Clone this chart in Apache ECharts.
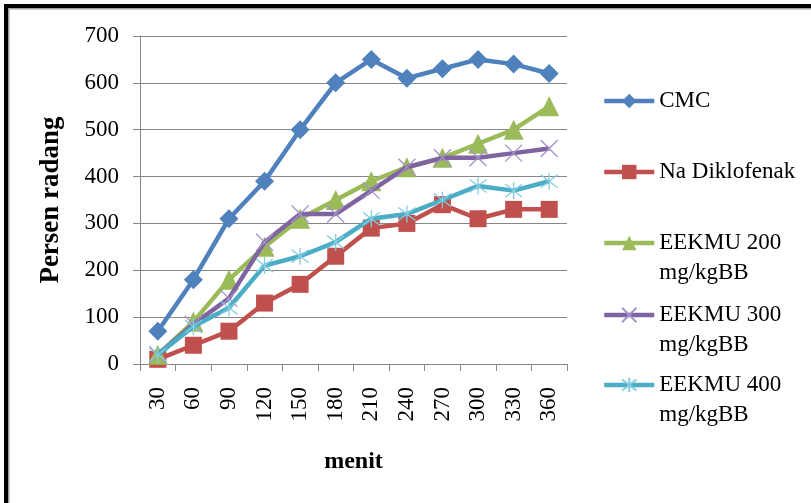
<!DOCTYPE html>
<html>
<head>
<meta charset="utf-8">
<script src="https://cdn.jsdelivr.net/npm/echarts@6/dist/echarts.min.js"></script>
<style>
html,body{margin:0;padding:0;background:#fff;}
#chart{width:811px;height:503px;}
</style>
</head>
<body>
<div id="chart"></div>
<script>
// ---- data ----
var categories = ['30','60','90','120','150','180','210','240','270','300','330','360'];
var seriesNames = ['CMC','Na Diklofenak','EEKMU 200 mg/kgBB','EEKMU 300 mg/kgBB','EEKMU 400 mg/kgBB'];
var cmc = [70,180,310,390,500,600,650,610,630,650,640,620];
var naDiklofenak = [10,40,70,130,170,230,290,300,340,310,330,330];
var eekmu200 = [20,90,180,250,310,350,390,420,440,470,500,550];
var eekmu300 = [20,85,140,260,320,320,370,420,440,440,450,460];
var eekmu400 = [20,80,120,210,230,260,310,320,350,380,370,390];
var yTicks = {min:0, max:700, interval:100};
var xTitle = 'menit';
var yTitle = 'Persen radang';

// ---- style ----
var FONT = 'Liberation Serif';
var colors = ['#4F81BD','#C0504D','#9BBB59','#8064A2','#4BACC6'];
var markerColors = ['#4F81BD','#C0504D','#9BBB59','#A493C9','#82CDE0'];
var symbols = [
  'diamond',
  'rect',
  'triangle',
  'path://M0,0L10,10M10,0L0,10',
  'path://M0,0L10,10M10,0L0,10M5,-1.5L5,11.5'
];
var symbolSizes = [19,17,20,17,17];
var dataArr = [cmc, naDiklofenak, eekmu200, eekmu300, eekmu400];
var legendCenters = [101,172,243,315,385];

var series = dataArr.map(function(d,i){
  var isPath = i >= 3;
  return {
    name: seriesNames[i],
    type: 'line',
    data: d,
    symbol: symbols[i],
    symbolSize: symbolSizes[i],
    showAllSymbol: true,
    lineStyle: {color: colors[i], width: 4.5},
    itemStyle: isPath ? {color: markerColors[i], borderColor: markerColors[i], borderWidth: 1.3}
                      : {color: colors[i], borderColor: colors[i], borderWidth: 0},
    emphasis: {disabled: true},
    animation: false,
    z: 2 + i
  };
});

var legends = seriesNames.map(function(n,i){
  var multi = n.indexOf(' mg') >= 0;
  return {
    orient: 'vertical',
    left: 602,
    top: multi ? legendCenters[i] - 45 : legendCenters[i] - 15,
    padding: 0,
    itemWidth: 50,
    itemHeight: 18,
    selectedMode: false,
    data: [n],
    lineStyle: {width: 4.5},
    formatter: function(name){
      return name.indexOf(' mg') >= 0 ? '\n' + name.replace(' mg', '\nmg') : name;
    },
    textStyle: {
      fontFamily: FONT, fontSize: 23, color: '#000', lineHeight: 30
    }
  };
});

var chart = echarts.init(document.getElementById('chart'), null, {renderer:'canvas'});
chart.setOption({
  backgroundColor: '#ffffff',
  animation: false,
  color: colors,
  grid: {left: 140, right: 244, top: 36, bottom: 139, containLabel: false},
  legend: legends,
  xAxis: {
    type: 'category',
    data: categories,
    boundaryGap: true,
    name: xTitle,
    nameLocation: 'middle',
    nameGap: 86,
    nameTextStyle: {fontFamily: FONT, fontSize: 24, fontWeight: 'bold', color: '#000'},
    axisLine: {lineStyle: {color: '#868686', width: 1}},
    axisTick: {show: true, alignWithLabel: false, length: 7, lineStyle: {color: '#868686'}},
    axisLabel: {rotate: 90, margin: 23, fontFamily: FONT, fontSize: 23, color: '#000'},
    splitLine: {show: false}
  },
  yAxis: {
    type: 'value',
    min: yTicks.min, max: yTicks.max, interval: yTicks.interval,
    name: yTitle,
    nameLocation: 'middle',
    nameGap: 75,
    nameRotate: 90,
    nameTextStyle: {fontFamily: FONT, fontSize: 27, fontWeight: 'bold', color: '#000'},
    axisLine: {show: true, lineStyle: {color: '#868686', width: 1}},
    axisTick: {show: true, length: 7, lineStyle: {color: '#868686'}},
    axisLabel: {margin: 21, fontFamily: FONT, fontSize: 23, color: '#000'},
    splitLine: {show: true, lineStyle: {color: '#868686', width: 1}}
  },
  graphic: [
    {type:'rect', shape:{x:4,y:4,width:807,height:4}, style:{fill:'#000'}, silent:true, z:100},
    {type:'rect', shape:{x:4,y:4,width:4,height:499}, style:{fill:'#000'}, silent:true, z:100},
    {type:'rect', shape:{x:8,y:8,width:803,height:1.5}, style:{fill:'#a0a0a0'}, silent:true, z:100},
    {type:'rect', shape:{x:8,y:8,width:1.5,height:495}, style:{fill:'#a0a0a0'}, silent:true, z:100}
  ],
  series: series
});
</script>
</body>
</html>
